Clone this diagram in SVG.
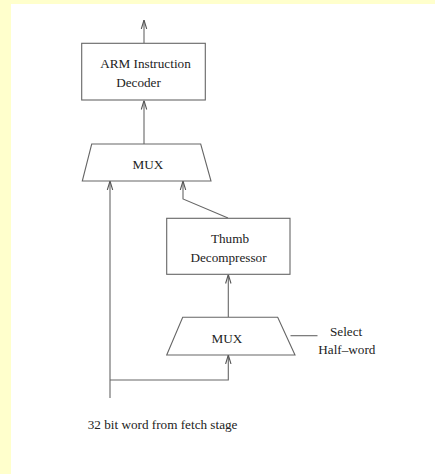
<svg xmlns="http://www.w3.org/2000/svg" width="435" height="474" viewBox="0 0 435 474">
  <defs>
    <marker id="arrow" viewBox="0 0 10 10" refX="10" refY="5" markerWidth="9" markerHeight="9" markerUnits="userSpaceOnUse" orient="auto">
      <path d="M0,2 L10,5 L0,8" fill="none" stroke="#555" stroke-width="1.2"/>
    </marker>
    <style>
      .shape { fill: #fff; stroke: #666; stroke-width: 1.1; }
      .wire { fill: none; stroke: #666; stroke-width: 1.1; }
      .lbl { font-family: "Liberation Serif", "Times New Roman", serif; font-size: 13.2px; fill: #222; }
      .mid { text-anchor: middle; }
    </style>
  </defs>

  <!-- page background and panel -->
  <rect x="0" y="0" width="435" height="474" fill="#ffffcc"/>
  <rect x="11" y="4" width="424" height="470" fill="#fff"/>

  <!-- connectors -->
  <g id="connectors">
    <line class="wire" x1="144" y1="43" x2="144" y2="20" marker-end="url(#arrow)"/>
    <line class="wire" x1="144" y1="144" x2="144" y2="100.5" marker-end="url(#arrow)"/>
    <line class="wire" x1="110" y1="398" x2="110" y2="181" marker-end="url(#arrow)"/>
    <polyline class="wire" points="228,218 183,199 183,181" marker-end="url(#arrow)"/>
    <line class="wire" x1="228.3" y1="317" x2="228.3" y2="274.5" marker-end="url(#arrow)"/>
    <polyline class="wire" points="110,380 228.3,380 228.3,355" marker-end="url(#arrow)"/>
    <line class="wire" x1="290.5" y1="335.7" x2="317.5" y2="335.7"/>
  </g>

  <!-- ARM decoder -->
  <g id="arm-decoder">
    <rect class="shape" x="81.7" y="43.3" width="123.6" height="56.7"/>
    <text class="lbl mid" x="145.5" y="68">ARM Instruction</text>
    <text class="lbl mid" x="138.5" y="87">Decoder</text>
  </g>

  <!-- upper multiplexer -->
  <g id="mux-upper">
    <polygon class="shape" points="91.7,144 200.7,144 211,181 82.3,181"/>
    <text class="lbl mid" x="148" y="168.5">MUX</text>
  </g>

  <!-- Thumb decompressor -->
  <g id="thumb-decompressor">
    <rect class="shape" x="166.7" y="218.3" width="123.3" height="56"/>
    <text class="lbl mid" x="230" y="243">Thumb</text>
    <text class="lbl mid" x="228.5" y="261.5">Decompressor</text>
  </g>

  <!-- lower multiplexer -->
  <g id="mux-lower">
    <polygon class="shape" points="182.7,317.3 277.7,317.3 295,355 166.7,355"/>
    <text class="lbl mid" x="227" y="342.5">MUX</text>
  </g>

  <!-- select input label -->
  <g id="select-label">
    <text class="lbl" x="330" y="336">Select</text>
    <text class="lbl" x="318.3" y="354.3">Half–word</text>
  </g>

  <!-- fetch input label -->
  <g id="fetch-label">
    <text class="lbl" x="87.7" y="429">32 bit word from fetch stage</text>
  </g>
</svg>
